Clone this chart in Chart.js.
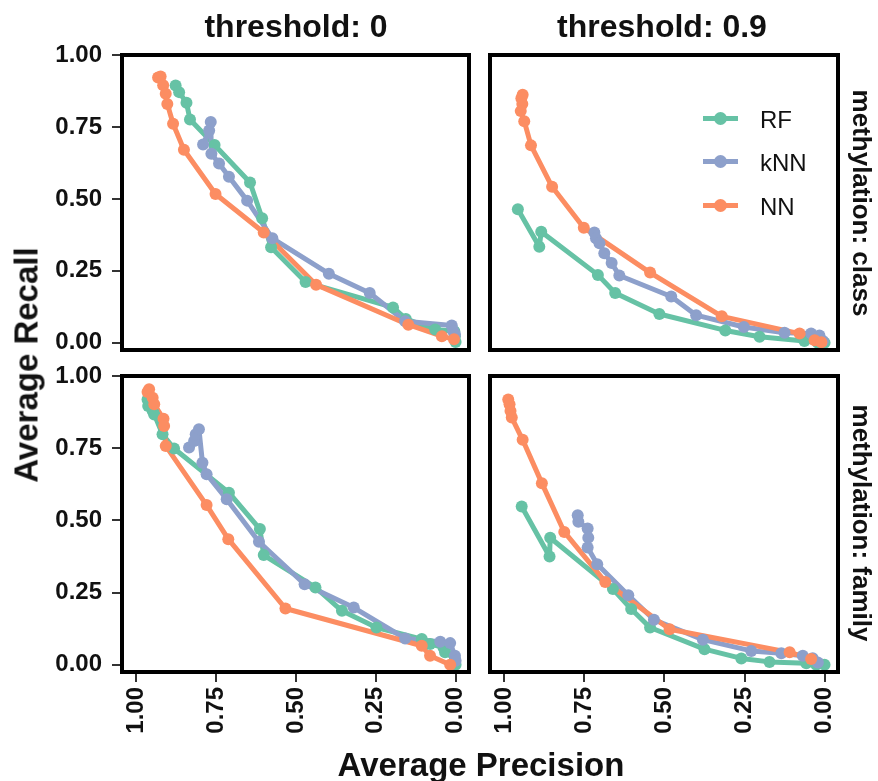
<!DOCTYPE html>
<html>
<head>
<meta charset="utf-8">
<script src="https://cdn.jsdelivr.net/npm/chart.js@4.4.1/dist/chart.umd.min.js"></script>
<style>
    body { margin: 0; background: #fff; }
    #wrap { position: relative; width: 878px; height: 781px; overflow: hidden; font-family: "Liberation Sans", Arial, sans-serif; color: #111; }
    .pane { position: absolute; }
    .lbl { position: absolute; white-space: nowrap; font-weight: bold; line-height: 1; transform: translate(-50%, -50%); z-index: 2; }
    .key { position: absolute; left: 703px; width: 150px; height: 30px; z-index: 2; }
    .key .ln { position: absolute; left: 0; top: 13px; width: 35px; height: 5px; }
    .key .dot { position: absolute; left: 11px; top: 9px; width: 13px; height: 13px; border-radius: 50%; }
    .key span { position: absolute; left: 57px; top: 3px; font-size: 24px; }
</style>
</head>
<body>
<div id="wrap">
    <div class="pane" id="tlBox"><canvas id="tl"></canvas></div>
    <div class="pane" id="trBox"><canvas id="tr"></canvas></div>
    <div class="pane" id="blBox"><canvas id="bl"></canvas></div>
    <div class="pane" id="brBox"><canvas id="br"></canvas></div>

    <div class="lbl" style="left:296px; top:26px; font-size:32px;">threshold: 0</div>
    <div class="lbl" style="left:662px; top:26px; font-size:32px;">threshold: 0.9</div>
    <div class="lbl" style="left:862px; top:203px; font-size:26px; transform:translate(-50%,-50%) rotate(90deg);">methylation: class</div>
    <div class="lbl" style="left:862px; top:523px; font-size:26px; transform:translate(-50%,-50%) rotate(90deg);">methylation: family</div>
    <div class="lbl" style="left:26px; top:365px; font-size:33px; transform:translate(-50%,-50%) rotate(-90deg);">Average Recall</div>
    <div class="lbl" style="left:481px; top:764px; font-size:33px;">Average Precision</div>

    <div id="legend"></div>
</div>

<script>
// tick values
const xTickVals = [1, 0.75, 0.5, 0.25, 0];
const yTickVals = [0, 0.25, 0.5, 0.75, 1];

const methods = ['RF', 'kNN', 'NN'];
const methodColors = ['#66c2a5', '#8da0cb', '#fc8d62'];

// [precision, recall] per threshold step -- methylation: class, threshold 0
const classT0_RF = [[0.877, 0.894], [0.866, 0.871], [0.843, 0.834], [0.832, 0.776], [0.755, 0.687], [0.644, 0.557], [0.606, 0.433], [0.578, 0.332], [0.470, 0.211], [0.196, 0.123], [0.156, 0.083], [0.064, 0.046], [0.004, 0.040], [0.002, 0.023], [0.000, 0.003]];
const classT0_kNN = [[0.791, 0.689], [0.772, 0.738], [0.767, 0.767], [0.765, 0.657], [0.741, 0.623], [0.710, 0.577], [0.653, 0.494], [0.574, 0.363], [0.397, 0.240], [0.269, 0.173], [0.158, 0.075], [0.012, 0.060], [0.007, 0.040], [0.002, 0.029]];
const classT0_NN = [[0.932, 0.922], [0.924, 0.925], [0.916, 0.895], [0.908, 0.865], [0.903, 0.830], [0.885, 0.761], [0.851, 0.671], [0.752, 0.517], [0.601, 0.383], [0.437, 0.202], [0.148, 0.063], [0.043, 0.023], [0.005, 0.012]];

// methylation: class, threshold 0.9
const classT9_RF = [[0.958, 0.464], [0.891, 0.334], [0.885, 0.386], [0.708, 0.236], [0.654, 0.173], [0.516, 0.100], [0.310, 0.043], [0.203, 0.021], [0.063, 0.006], [0.021, 0.000], [0.000, 0.000]];
const classT9_kNN = [[0.719, 0.383], [0.714, 0.363], [0.703, 0.346], [0.688, 0.311], [0.665, 0.277], [0.641, 0.234], [0.479, 0.161], [0.401, 0.096], [0.252, 0.055], [0.125, 0.035], [0.042, 0.032], [0.016, 0.025], [0.005, 0.006]];
const classT9_NN = [[0.943, 0.862], [0.947, 0.850], [0.944, 0.830], [0.949, 0.805], [0.938, 0.770], [0.917, 0.686], [0.851, 0.542], [0.752, 0.400], [0.545, 0.244], [0.321, 0.092], [0.078, 0.032], [0.031, 0.009], [0.010, 0.002]];

// methylation: family, threshold 0
const familyT0_RF = [[0.965, 0.919], [0.963, 0.896], [0.949, 0.879], [0.944, 0.867], [0.918, 0.798], [0.882, 0.749], [0.710, 0.596], [0.613, 0.470], [0.601, 0.380], [0.439, 0.268], [0.356, 0.187], [0.248, 0.129], [0.106, 0.089], [0.080, 0.072], [0.038, 0.060], [0.033, 0.043], [0.002, 0.020], [0.000, 0.000]];
const familyT0_kNN = [[0.835, 0.752], [0.819, 0.775], [0.814, 0.798], [0.804, 0.816], [0.793, 0.700], [0.780, 0.660], [0.717, 0.573], [0.616, 0.426], [0.473, 0.279], [0.319, 0.198], [0.158, 0.091], [0.048, 0.080], [0.017, 0.075], [0.002, 0.031], [0.000, 0.014]];
const familyT0_NN = [[0.960, 0.954], [0.965, 0.945], [0.949, 0.925], [0.944, 0.902], [0.915, 0.852], [0.913, 0.827], [0.908, 0.758], [0.780, 0.553], [0.712, 0.435], [0.533, 0.195], [0.106, 0.066], [0.080, 0.031], [0.017, 0.000]];

// methylation: family, threshold 0.9
const familyT9_RF = [[0.946, 0.548], [0.859, 0.375], [0.857, 0.440], [0.661, 0.262], [0.604, 0.193], [0.545, 0.129], [0.375, 0.054], [0.260, 0.022], [0.172, 0.010], [0.057, 0.005], [0.026, 0.000], [0.000, 0.000]];
const familyT9_kNN = [[0.771, 0.518], [0.769, 0.495], [0.740, 0.472], [0.738, 0.440], [0.740, 0.406], [0.710, 0.348], [0.613, 0.241], [0.533, 0.156], [0.380, 0.087], [0.229, 0.048], [0.135, 0.040], [0.068, 0.031], [0.037, 0.023], [0.021, 0.008]];
const familyT9_NN = [[0.988, 0.919], [0.984, 0.902], [0.981, 0.879], [0.977, 0.856], [0.943, 0.779], [0.883, 0.629], [0.813, 0.460], [0.685, 0.287], [0.484, 0.123], [0.109, 0.043], [0.042, 0.020]];

const FONT = '"Liberation Sans", Arial, sans-serif';
const YW = 80;   // room for y tick labels
const XH = 82;   // room for rotated x tick labels
const PAD = 20;

const panelBorder = {
    id: 'panelBorder',
    afterDatasetsDraw(chart) {
        const { ctx, chartArea: a } = chart;
        ctx.save();
        ctx.strokeStyle = '#000';
        ctx.lineWidth = 4;
        ctx.strokeRect(a.left, a.top, a.right - a.left, a.bottom - a.top);
        ctx.restore();
    }
};

function axisOpts(showIt, isX) {
    return {
        type: 'linear',
        display: showIt,
        reverse: isX,
        min: isX ? -0.042 : -0.025,
        max: isX ? 1.045 : 1.0,
        afterFit: s => {
            if (!showIt) return;
            if (isX) {
                s.height = XH;
                s.paddingLeft = 0;
                s.paddingRight = 0;
            } else {
                s.width = YW;
                s.paddingTop = 0;
                s.paddingBottom = 0;
            }
        },
        afterBuildTicks: s => {
            s.ticks = (isX ? xTickVals : yTickVals).map(v => ({ value: v }));
        },
        grid: { drawOnChartArea: false, drawTicks: true, tickLength: 10, color: '#333', lineWidth: 2 },
        border: { display: false },
        ticks: {
            autoSkip: false,
            maxRotation: isX ? 90 : 0,
            minRotation: isX ? 90 : 0,
            padding: isX ? 5 : 10,
            color: '#111',
            font: { family: FONT, size: 24, weight: 'bold' },
            callback: v => Number(v).toFixed(2)
        }
    };
}

// area = chart area box in page pixels
function makePanel(id, series, area, showX, showY) {
    const box = document.getElementById(id + 'Box');
    const left = area.l - (showY ? YW : PAD);
    const top = area.t - PAD;
    const w = area.r + PAD - left;
    const h = area.b + (showX ? XH : PAD) - top;
    box.style.left = left + 'px';
    box.style.top = top + 'px';
    box.style.width = w + 'px';
    box.style.height = h + 'px';

    const datasets = [];
    series.forEach((pts, i) => {
        const data = pts.map(([p, r]) => ({ x: p, y: r }));
        datasets.push({
            label: methods[i] + ' line',
            data: data,
            showLine: true,
            borderColor: methodColors[i],
            borderWidth: 5,
            borderJoinStyle: 'round',
            borderCapStyle: 'round',
            pointRadius: 0,
            order: 10 - i
        });
        datasets.push({
            label: methods[i],
            data: data,
            showLine: false,
            backgroundColor: methodColors[i],
            borderWidth: 0,
            pointRadius: 6,
            order: 3 - i
        });
    });

    return new Chart(document.getElementById(id), {
        type: 'scatter',
        data: { datasets },
        options: {
            responsive: true,
            maintainAspectRatio: false,
            animation: false,
            layout: { padding: { left: showY ? 0 : PAD, right: PAD, top: PAD, bottom: showX ? 0 : PAD } },
            scales: { x: axisOpts(showX, true), y: axisOpts(showY, false) },
            plugins: { legend: { display: false }, tooltip: { enabled: false } }
        },
        plugins: [panelBorder]
    });
}

makePanel('tl', [classT0_RF, classT0_kNN, classT0_NN], { l: 122, t: 55, r: 469, b: 350 }, false, true);
makePanel('tr', [classT9_RF, classT9_kNN, classT9_NN], { l: 490, t: 55, r: 838, b: 350 }, false, false);
makePanel('bl', [familyT0_RF, familyT0_kNN, familyT0_NN], { l: 122, t: 376, r: 469, b: 672 }, true, true);
makePanel('br', [familyT9_RF, familyT9_kNN, familyT9_NN], { l: 490, t: 376, r: 838, b: 672 }, true, false);

// legend inside the top-right panel
const legendEl = document.getElementById('legend');
const keyTops = [103, 146, 190];
methods.forEach((m, i) => {
    const row = document.createElement('div');
    row.className = 'key';
    row.style.top = keyTops[i] + 'px';
    row.innerHTML = `<div class="ln" style="background:${methodColors[i]}"></div>` +
        `<div class="dot" style="background:${methodColors[i]}"></div><span>${m}</span>`;
    legendEl.appendChild(row);
});
</script>
</body>
</html>
